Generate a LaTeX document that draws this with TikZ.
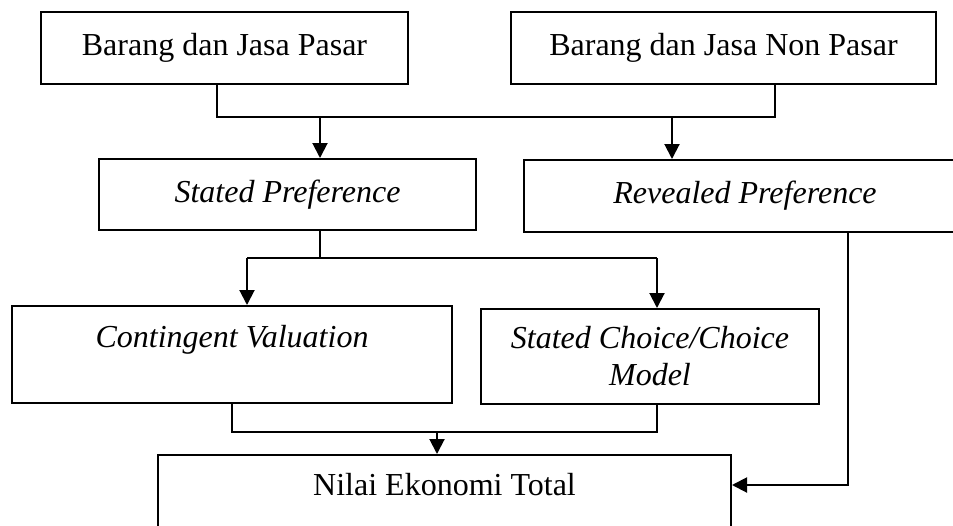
\documentclass[tikz,border=0pt]{standalone}
\usepackage{fontspec}
\setmainfont{Liberation Serif}
\usetikzlibrary{arrows.meta}

\begin{document}
\begin{tikzpicture}[
    x=0.5pt, y=-0.5pt,
    font=\fontsize{16}{18.5}\selectfont,
    box/.style={rectangle, draw=black, line width=1pt, inner sep=0pt,
                align=center},
    line/.style={line width=1pt},
    arrow/.style={line width=1pt, -{Triangle[width=7.5pt, length=7.5pt]}}
  ]
    \useasboundingbox (0,0) rectangle (953,525);
    \clip (0,0) rectangle (953,525);

    % Goods and services
    \node[box, minimum width=183.5pt, minimum height=36pt] (pasar) at (224.5,48) {Barang dan Jasa Pasar};
    \node[box, minimum width=212.5pt, minimum height=36pt] (nonpasar) at (723.5,48) {Barang dan Jasa Non Pasar};

    % Preference methods
    \node[box, minimum width=188.5pt, minimum height=35.5pt] (stated) at (287.5,194.5) {\textit{Stated Preference}};
    \node[box, minimum width=221pt, minimum height=36pt] (revealed) at (745,196) {\textit{Revealed Preference}};

    % Stated preference techniques
    \node[box, minimum width=220pt, minimum height=48.5pt] (cv) at (232,354.5) {\textit{Contingent Valuation}\\~};
    \node[box, minimum width=169pt, minimum height=47.5pt] (sc) at (650,356.5) {\textit{Stated Choice/Choice}\\\textit{Model}};

    % Result
    \node[box, minimum width=286.5pt, minimum height=47.5pt] (nilai) at (444.5,502.5) {Nilai Ekonomi Total\\~};

    % Junction points
    \coordinate (topL) at (217,117);
    \coordinate (topR) at (775,117);
    \coordinate (dropS) at (320,117);
    \coordinate (dropR) at (672,117);
    \coordinate (midL) at (247,258);
    \coordinate (midR) at (657,258);
    \coordinate (lowL) at (232,432);
    \coordinate (lowR) at (657,432);
    \coordinate (lowM) at (437,432);
    \coordinate (rv) at (848,485);

    % Arrows
    \draw[line] (pasar.south -| topL) -- (topL) -- (topR) -- (nonpasar.south -| topR);
    \draw[arrow] (dropS) -- (stated.north -| dropS);
    \draw[arrow] (dropR) -- (revealed.north -| dropR);

    \draw[line] (stated.south -| dropS) -- (dropS |- midL);
    \draw[line] (midL) -- (midR);
    \draw[arrow] (midL) -- (cv.north -| midL);
    \draw[arrow] (midR) -- (sc.north -| midR);

    \draw[line] (cv.south -| lowL) -- (lowL) -- (lowR) -- (sc.south -| lowR);
    \draw[arrow] (lowM) -- (nilai.north -| lowM);

    \draw[arrow] (revealed.south -| rv) -- (rv) -- (nilai.east |- rv);

\end{tikzpicture}
\end{document}
